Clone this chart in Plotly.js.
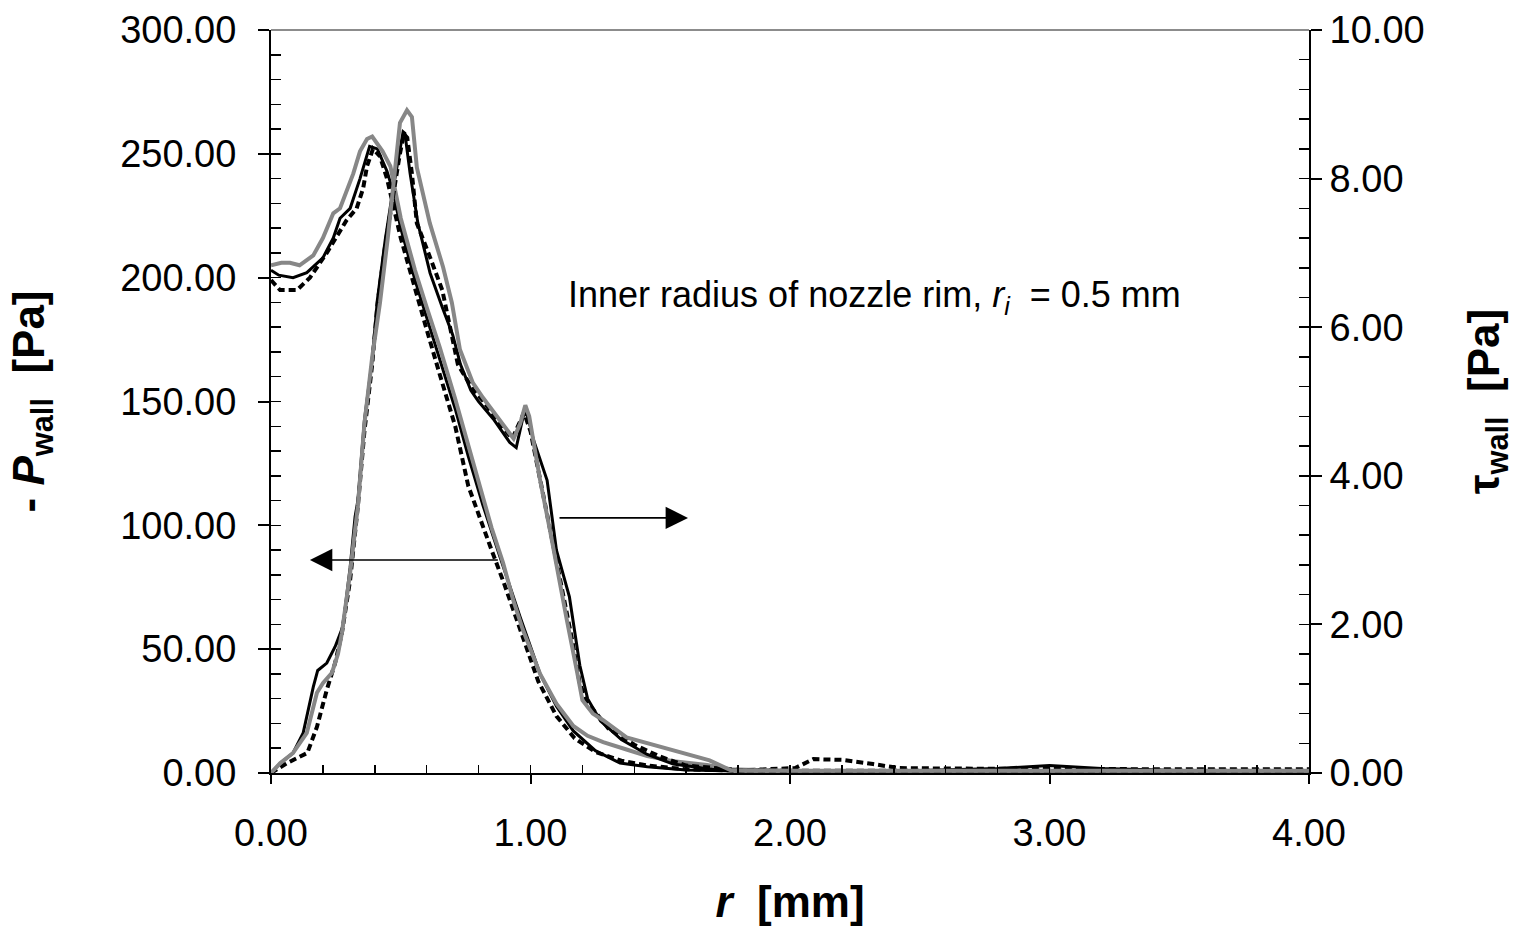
<!DOCTYPE html>
<html>
<head>
<meta charset="utf-8">
<script src="https://cdn.plot.ly/plotly-3.0.1.min.js"></script>
<style>html,body{margin:0;padding:0;background:#fff;}#chart{width:1515px;height:930px;}</style>
</head>
<body>
<div id="chart"></div>
<script>
// ---- Data ----
// -P_wall [Pa], left axis
const rPb = [0, 0.03, 0.085, 0.138, 0.2, 0.24, 0.266, 0.305, 0.343, 0.38, 0.41, 0.447, 0.47, 0.5, 0.555, 0.6, 0.65, 0.71, 0.76, 0.817, 0.88, 0.96, 1.037, 1.1, 1.165, 1.25, 1.345, 1.45, 1.6, 1.8, 2.0, 2.5, 2.8, 3.0, 3.2, 3.5, 4.0];
const Pb  = [203, 201, 200, 202, 208, 216, 224, 228, 240, 253, 252, 243, 235, 220, 199, 184, 167, 147, 128, 108, 88, 63, 40, 27, 17, 9, 4, 2.5, 1.2, 0.8, 0.8, 1.0, 1.8, 3.0, 1.8, 1.0, 0.6];

const rPd = [0, 0.035, 0.1, 0.15, 0.215, 0.25, 0.29, 0.33, 0.355, 0.37, 0.393, 0.42, 0.447, 0.5, 0.555, 0.6, 0.65, 0.71, 0.76, 0.8, 0.85, 0.9, 0.96, 1.03, 1.1, 1.17, 1.25, 1.35, 1.45, 1.6, 1.8, 2.02, 2.09, 2.13, 2.2, 2.32, 2.42, 2.6, 3.0, 3.5, 4.0];
const Pd  = [199, 195, 195, 200, 210, 216, 223, 228, 236, 245, 252, 249, 240, 216, 195, 179, 161, 140, 116, 104, 90, 76, 58, 37, 23, 14, 8.5, 5, 3, 1.5, 1, 2, 5.6, 5.6, 5.3, 3.6, 2, 1.8, 1.5, 1.5, 1.5];

const rPg = [0, 0.04, 0.073, 0.11, 0.163, 0.2, 0.24, 0.266, 0.317, 0.343, 0.37, 0.39, 0.43, 0.46, 0.5, 0.555, 0.6, 0.65, 0.71, 0.76, 0.817, 0.85, 0.894, 0.933, 0.97, 1.037, 1.1, 1.165, 1.22, 1.28, 1.37, 1.45, 1.56, 1.68, 1.77, 2.0, 2.5, 3.0, 3.5, 4.0];
const Pg  = [205, 206, 206, 205, 209, 216, 226, 228, 242, 251, 256, 257, 251, 245, 224, 203, 188, 172, 151, 132, 111, 99, 85, 70, 58, 40, 28, 19, 15, 12.5, 9.5, 6.8, 4.6, 3.2, 1.5, 0.8, 0.8, 0.8, 0.8, 0.8];

// tau_wall [Pa], right axis
const rTb = [0, 0.035, 0.085, 0.124, 0.163, 0.18, 0.215, 0.247, 0.277, 0.305, 0.324, 0.335, 0.36, 0.39, 0.41, 0.44, 0.47, 0.495, 0.509, 0.516, 0.536, 0.566, 0.613, 0.66, 0.7, 0.73, 0.77, 0.8, 0.86, 0.92, 0.945, 0.975, 0.99, 1.01, 1.064, 1.1, 1.15, 1.19, 1.22, 1.27, 1.35, 1.45, 1.55, 1.7, 2.0, 2.5, 3.0, 3.5, 4.0];
const Tb  = [0, 0.13, 0.27, 0.54, 1.16, 1.38, 1.48, 1.7, 1.97, 2.77, 3.45, 3.67, 4.75, 5.56, 6.37, 7.17, 7.85, 8.35, 8.63, 8.61, 8.07, 7.4, 6.73, 6.27, 5.9, 5.5, 5.15, 5.0, 4.75, 4.45, 4.38, 4.85, 4.8, 4.5, 3.94, 3.0, 2.37, 1.45, 1.0, 0.7, 0.45, 0.25, 0.12, 0.05, 0.03, 0.03, 0.03, 0.03, 0.03];

const rTd = [0, 0.06, 0.14, 0.177, 0.215, 0.247, 0.273, 0.305, 0.335, 0.36, 0.39, 0.41, 0.44, 0.47, 0.495, 0.512, 0.525, 0.543, 0.562, 0.613, 0.66, 0.69, 0.72, 0.78, 0.82, 0.88, 0.93, 0.975, 1.0, 1.04, 1.08, 1.12, 1.16, 1.19, 1.22, 1.3, 1.4, 1.5, 1.6, 1.8, 2.0, 3.0, 4.0];
const Td  = [0, 0.13, 0.27, 0.62, 1.12, 1.48, 1.88, 2.6, 3.6, 4.6, 5.5, 6.3, 7.1, 7.8, 8.3, 8.6, 8.55, 8.07, 7.4, 6.94, 6.5, 6.0, 5.5, 5.15, 5.0, 4.7, 4.5, 4.85, 4.6, 3.9, 3.2, 2.5, 1.8, 1.2, 0.95, 0.6, 0.38, 0.22, 0.1, 0.04, 0.03, 0.03, 0.03];

const rTg = [0, 0.035, 0.085, 0.138, 0.177, 0.2, 0.235, 0.258, 0.273, 0.305, 0.335, 0.36, 0.39, 0.42, 0.45, 0.47, 0.497, 0.524, 0.543, 0.562, 0.612, 0.663, 0.697, 0.728, 0.778, 0.817, 0.87, 0.91, 0.935, 0.96, 0.98, 0.995, 1.006, 1.037, 1.075, 1.11, 1.14, 1.18, 1.2, 1.24, 1.28, 1.37, 1.5, 1.63, 1.69, 1.77, 2.0, 3.0, 4.0];
const Tg  = [0, 0.13, 0.27, 0.54, 1.08, 1.21, 1.35, 1.6, 1.88, 2.7, 3.6, 4.7, 5.6, 6.33, 7.2, 7.9, 8.75, 8.92, 8.83, 8.15, 7.4, 6.81, 6.33, 5.7, 5.25, 5.05, 4.8, 4.62, 4.5, 4.7, 4.95, 4.8, 4.58, 3.94, 3.27, 2.6, 2.06, 1.35, 0.98, 0.8, 0.71, 0.48, 0.35, 0.22, 0.17, 0.04, 0.03, 0.03, 0.03];

// axis ranges
const xRange = [0, 4];
const pRange = [0, 300];
const tRange = [0, 10];

const FONT = 'Liberation Sans, Arial, sans-serif';
const BLACK = '#000000';
const GRAY = '#878787';

function line(x, y, axis, color, width, dash) {
  return {x: x, y: y, type: 'scatter', mode: 'lines', yaxis: axis,
    line: {color: color, width: width, dash: dash || 'solid'},
    hoverinfo: 'skip', showlegend: false};
}

const traces = [
  line(rPd, Pd, 'y', BLACK, 4, '7px,4px'),
  line(rTd, Td, 'y2', BLACK, 4, '7px,4px'),
  line(rPb, Pb, 'y', BLACK, 3),
  line(rTb, Tb, 'y2', BLACK, 3),
  line(rPg, Pg, 'y', GRAY, 4),
  line(rTg, Tg, 'y2', GRAY, 4),
  // empty carriers for the minor-tick overlay axes
  {x: [], y: [], type: 'scatter', xaxis: 'x3', yaxis: 'y3', showlegend: false, hoverinfo: 'skip'},
  {x: [], y: [], type: 'scatter', xaxis: 'x3', yaxis: 'y4', showlegend: false, hoverinfo: 'skip'}
];

const tickFont = {family: FONT, size: 38, color: BLACK};
const titleFont = {family: FONT, size: 44, color: BLACK, weight: 'bold'};
const common = {showgrid: false, zeroline: false, fixedrange: true};

const layout = {
  width: 1515, height: 930,
  margin: {l: 271, r: 206, t: 30, b: 157, pad: 0},
  paper_bgcolor: '#ffffff', plot_bgcolor: '#ffffff',
  font: {family: FONT, color: BLACK},
  showlegend: false,
  xaxis: Object.assign({}, common, {
    range: xRange, autorange: false, tick0: 0, dtick: 1, tickformat: '.2f',
    ticks: 'outside', ticklen: 9, tickwidth: 2, tickcolor: BLACK,
    showline: true, linecolor: BLACK, linewidth: 2,
    tickfont: tickFont, ticklabelstandoff: 16,
    title: {text: '<b><i>r</i>\u00a0 [mm]</b>', font: titleFont, standoff: 34}
  }),
  yaxis: Object.assign({}, common, {
    range: pRange, autorange: false, tick0: 0, dtick: 50, tickformat: '.2f',
    ticks: 'outside', ticklen: 11, tickwidth: 2, tickcolor: BLACK,
    showline: true, linecolor: BLACK, linewidth: 2,
    tickfont: tickFont, ticklabelstandoff: 14,
    title: {text: '<b>- <i>P</i><sub>wall</sub>\u00a0 [Pa]</b>', font: titleFont, standoff: 62}
  }),
  yaxis2: Object.assign({}, common, {
    range: tRange, autorange: false, tick0: 0, dtick: 2, tickformat: '.2f',
    overlaying: 'y', side: 'right', anchor: 'x',
    ticks: 'outside', ticklen: 11, tickwidth: 2, tickcolor: BLACK,
    showline: true, linecolor: BLACK, linewidth: 2,
    tickfont: tickFont,
    title: {text: '<b>τ<sub>wall</sub>\u00a0 [Pa]</b>', font: titleFont, standoff: 46}
  }),
  xaxis3: Object.assign({}, common, {
    range: xRange, autorange: false, overlaying: 'x', anchor: 'y3', side: 'bottom',
    tick0: 0, dtick: 0.2, ticks: 'inside', ticklen: 8, tickwidth: 1.5, tickcolor: BLACK,
    showticklabels: false, showline: false
  }),
  yaxis3: Object.assign({}, common, {
    range: pRange, autorange: false, overlaying: 'y', anchor: 'x3', side: 'left',
    tick0: 0, dtick: 10, ticks: 'inside', ticklen: 10, tickwidth: 1.5, tickcolor: BLACK,
    showticklabels: false, showline: false
  }),
  yaxis4: Object.assign({}, common, {
    range: tRange, autorange: false, overlaying: 'y', anchor: 'x3', side: 'right',
    tick0: 0, dtick: 0.4, ticks: 'inside', ticklen: 10, tickwidth: 1.5, tickcolor: BLACK,
    showticklabels: false, showline: false
  }),
  shapes: [
    {type: 'line', xref: 'paper', yref: 'paper', x0: 0, x1: 1, y0: 1, y1: 1,
     line: {color: '#8c8c8c', width: 2}}
  ],
  annotations: [
    {xref: 'x', yref: 'y', x: 1.137, y: 192, xanchor: 'left', yanchor: 'middle',
     text: 'Inner radius of nozzle rim, <i>r</i><sub><i>i</i></sub>\u00a0 = 0.5 mm',
     showarrow: false, font: {family: FONT, size: 36, color: BLACK}},
    {xref: 'x', yref: 'y', axref: 'x', ayref: 'y', x: 0.15, y: 86, ax: 0.88, ay: 86,
     text: '', showarrow: true, arrowhead: 2, arrowsize: 2.8, arrowwidth: 1.6, arrowcolor: BLACK, standoff: 0},
    {xref: 'x', yref: 'y', axref: 'x', ayref: 'y', x: 1.607, y: 103, ax: 1.106, ay: 103,
     text: '', showarrow: true, arrowhead: 2, arrowsize: 2.8, arrowwidth: 1.6, arrowcolor: BLACK, standoff: 0}
  ]
};

Plotly.newPlot('chart', traces, layout, {staticPlot: true, displayModeBar: false});
</script>
</body>
</html>
